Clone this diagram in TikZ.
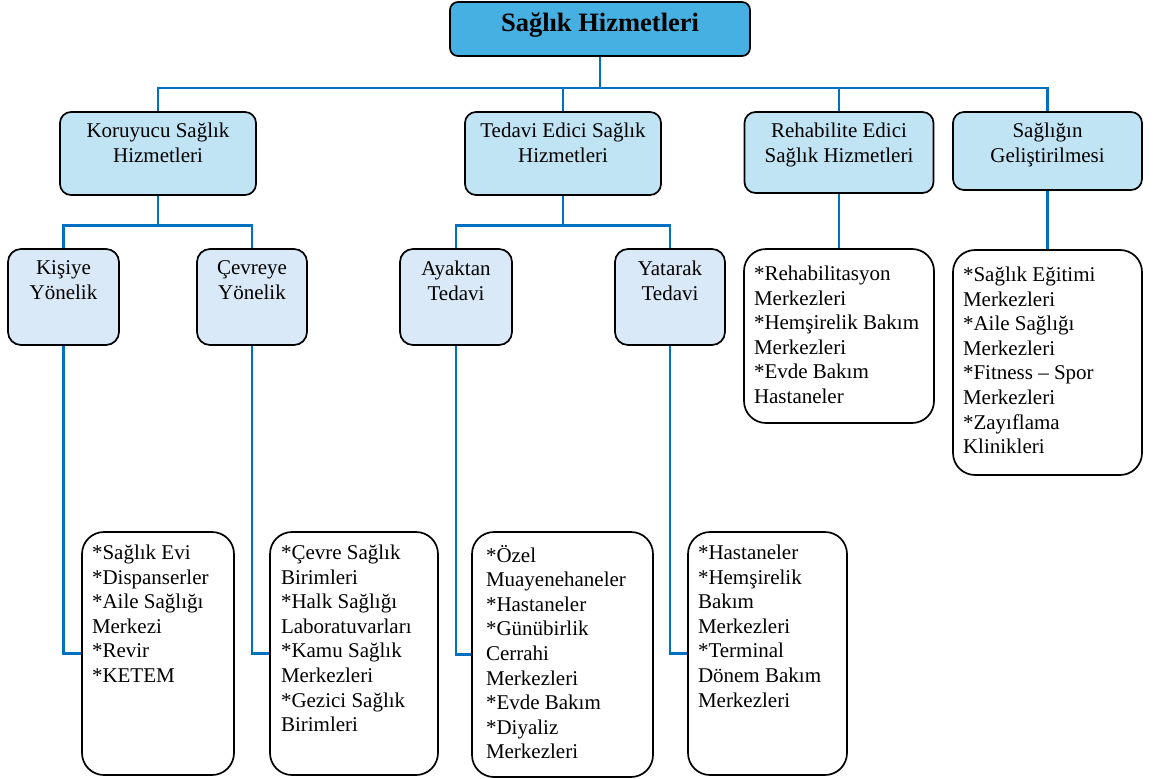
\documentclass[tikz,border=0pt]{standalone}
\usepackage{fontspec}
\setmainfont{Liberation Serif}
\usepackage{tikz}
\usetikzlibrary{calc}
\definecolor{rootblue}{RGB}{69,176,225}
\definecolor{mainblue}{RGB}{193,228,245}
\definecolor{subblue}{RGB}{218,233,247}
\definecolor{linkblue}{RGB}{0,112,192}
\newcommand{\boxtext}[3]{\parbox[c][#2pt][t]{#1pt}{#3}}

\begin{document}
\begin{tikzpicture}[x=1pt, y=-1pt,
  cell/.style={draw=black, line width=1.7pt, inner sep=0pt, font=\fontsize{21}{24.6}\selectfont},
  rootbox/.style={cell, fill=rootblue, rounded corners=8pt, inner xsep=5pt, inner ysep=11pt, font=\bfseries\fontsize{26.5}{30}\selectfont},
  mainbox/.style={cell, fill=mainblue, rounded corners=11pt, inner xsep=5pt, inner ysep=11pt},
  subbox/.style={cell, fill=subblue, rounded corners=13pt, inner xsep=4pt, inner ysep=12pt},
  listbox/.style={cell, fill=white, rounded corners=22pt, inner xsep=10pt, inner ysep=13pt},
  link/.style={draw=linkblue, line width=2.8pt}]
\useasboundingbox (0,0) rectangle (1154,779);

\node[rootbox] (root) at (600,29) {\boxtext{290}{32}{\centering Sağlık Hizmetleri}};

\node[mainbox] (kor) at (158,153.5) {\boxtext{186}{61}{\centering Koruyucu Sağlık\\Hizmetleri}};
\node[mainbox] (ted) at (563,153.5) {\boxtext{186}{61}{\centering Tedavi Edici Sağlık\\Hizmetleri}};
\node[mainbox] (reh) at (839,152.5) {\boxtext{179}{59}{\centering Rehabilite Edici\\Sağlık Hizmetleri}};
\node[mainbox] (gel) at (1047.5,151) {\boxtext{179}{56}{\centering Sağlığın\\Geliştirilmesi}};

\node[subbox] (kis) at (63.5,297) {\boxtext{103}{72}{\centering Kişiye\\Yönelik}};
\node[subbox] (cev) at (252,297) {\boxtext{102}{72}{\centering Çevreye\\Yönelik}};
\node[subbox] (aya) at (456,297) {\boxtext{104}{72}{\centering Ayaktan\\Tedavi}};
\node[subbox] (yat) at (670,297) {\boxtext{102}{72}{\centering Yatarak\\Tedavi}};

\node[listbox, inner ysep=13pt] (kisl) at (158,653.5) {\boxtext{132}{217}{*Sağlık Evi\\{}*Dispanserler\\{}*Aile Sağlığı\\Merkezi\\{}*Revir\\{}*KETEM}};
\node[listbox, inner xsep=11pt] (cevl) at (354,653.5) {\boxtext{146}{217}{*Çevre Sağlık\\Birimleri\\{}*Halk Sağlığı\\Laboratuvarları\\{}*Kamu Sağlık\\Merkezleri\\{}*Gezici Sağlık\\Birimleri}};
\node[listbox, inner xsep=14pt] (ayal) at (562.5,654.5) {\boxtext{153}{219}{*Özel\\Muayenehaneler\\{}*Hastaneler\\{}*Günübirlik\\Cerrahi\\Merkezleri\\{}*Evde Bakım\\{}*Diyaliz\\Merkezleri}};
\node[listbox] (yatl) at (767.5,653.5) {\boxtext{139}{217}{*Hastaneler\\{}*Hemşirelik\\Bakım\\Merkezleri\\{}*Terminal\\Dönem Bakım\\Merkezleri}};
\node[listbox, inner ysep=17pt] (rehl) at (839,336) {\boxtext{170}{140}{*Rehabilitasyon\\Merkezleri\\{}*Hemşirelik Bakım\\Merkezleri\\{}*Evde Bakım\\Hastaneler}};
\node[listbox, inner ysep=17pt] (gell) at (1047.5,362.5) {\boxtext{169}{191}{*Sağlık Eğitimi\\Merkezleri\\{}*Aile Sağlığı\\Merkezleri\\{}*Fitness – Spor\\Merkezleri\\{}*Zayıflama\\Klinikleri}};

\coordinate (bus) at (600,88);
\draw[link] (root.south) -- (bus);
\draw[link] (kor.north) |- (bus) -| (gel.north);
\draw[link] (ted.north) |- (bus);
\draw[link] (reh.north) |- (bus);

\draw[link] (kor.south) -- ++(0,30) coordinate (korbus);
\draw[link] (kis.north) |- (korbus) -| (cev.north);
\draw[link] (ted.south) -- ++(0,30) coordinate (tedbus);
\draw[link] (aya.north) |- (tedbus) -| (yat.north);

\foreach \a/\b in {kis/kisl, cev/cevl, aya/ayal, yat/yatl}
  \draw[link] (\a.south) |- (\b.west);
\draw[link] (reh.south) -- (rehl.north);
\draw[link] (gel.south) -- (gell.north);
\end{tikzpicture}
\end{document}
